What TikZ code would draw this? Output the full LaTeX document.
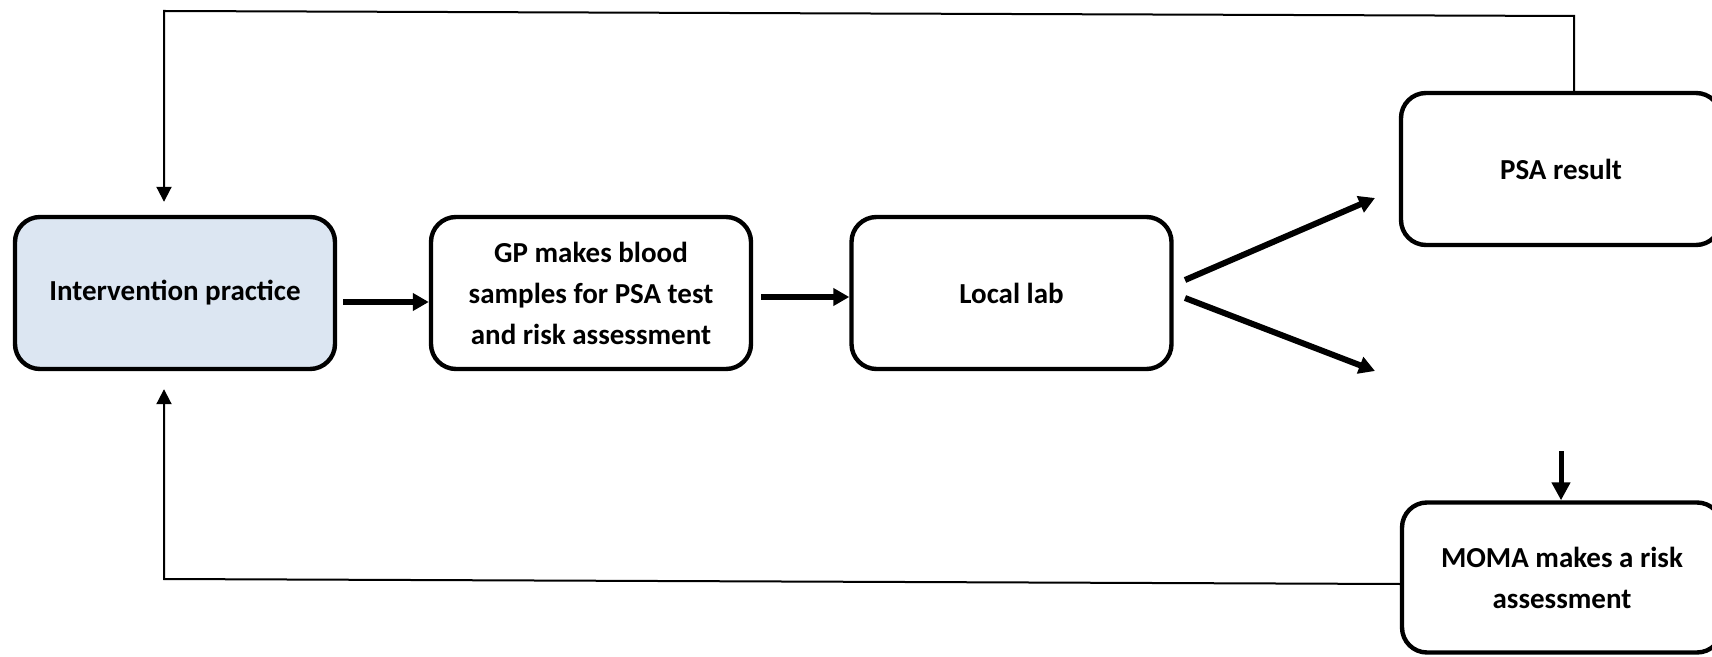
\documentclass[tikz,border=0pt]{standalone}
\usepackage{fontspec}
\setmainfont{Carlito}
\usetikzlibrary{arrows.meta}
\definecolor{boxblue}{HTML}{DCE6F2}
\begin{document}
\begin{tikzpicture}[x=0.5pt,y=-0.5pt,
  box/.style={draw, line width=2.2pt, rounded corners=12.5pt,
    minimum width=160pt, minimum height=76pt, align=center,
    inner sep=0pt, font=\fontsize{14.5}{20.5}\selectfont\bfseries},
  thinarrow/.style={line width=1pt, -{Triangle[width=7.5pt,length=7.5pt]}},
  thickarrow/.style={line width=3pt, -{Triangle[width=8.5pt,length=8pt]}}]
\clip (0,0) rectangle (1712,657);

% process boxes
\node[box, fill=boxblue] (int) at (175,293) {Intervention practice};
\node[box] (gp)  at (591,293) {GP makes blood\\samples for PSA test\\and risk assessment};
\node[box] (lab) at (1011.5,293) {Local lab};
\node[box] (psa) at (1561,169) {PSA result};
\node[box, minimum height=75pt] (moma) at (1562,577.5) {MOMA makes a risk\\assessment};

% main flow
\draw[thickarrow, shorten <=3pt] ([yshift=-4.5pt]int.east) -- ([yshift=-4.5pt]gp.west);
\draw[thickarrow, shorten <=4pt] ([yshift=-2pt]gp.east) -- ([yshift=-2pt]lab.west);

% branching from the lab
\coordinate (upS) at (1185,280);
\coordinate (upE) at (1375,198);
\coordinate (loS) at (1185,298);
\coordinate (loE) at (1375,371);
\draw[thickarrow] (upS) -- (upE);
\draw[thickarrow] (loS) -- (loE);

% into the risk assessment
\coordinate (dn) at (1561,451);
\draw[line width=2.5pt, -{Triangle[width=9pt,length=9pt]}] (dn) -- (moma.north -| dn);

% feedback loops
\coordinate (topR) at (1574,16);
\coordinate (topL) at (164,11);
\draw[thinarrow, shorten >=6.5pt] (psa.north -| topR) -- (topR) -- (topL) -- (int.north -| topL);

\coordinate (botR) at (1400,584);
\coordinate (botL) at (164,579);
\draw[thinarrow, shorten >=9pt] (botR) -- (botL) -- (int.south -| botL);
\end{tikzpicture}
\end{document}
